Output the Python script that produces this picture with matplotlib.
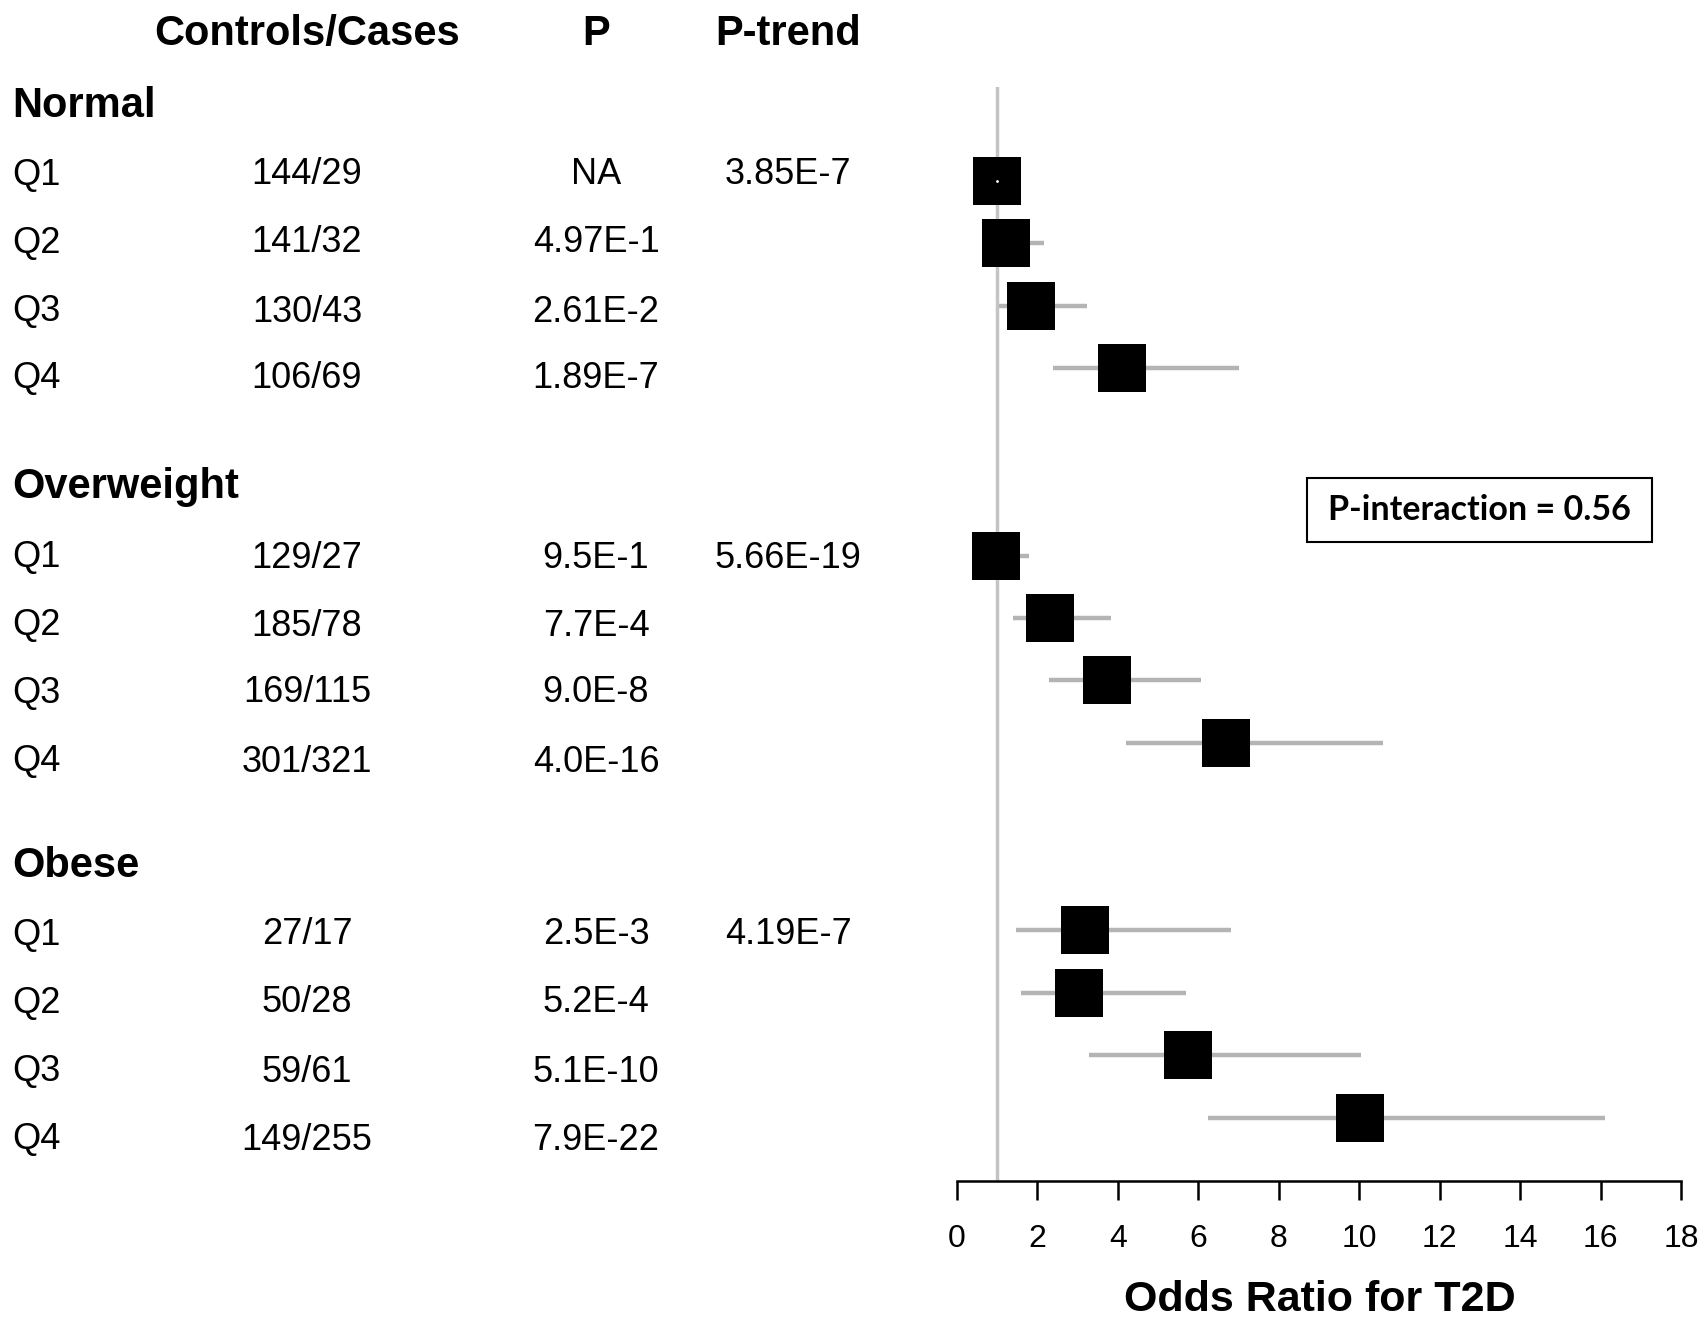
import numpy as np
import matplotlib
matplotlib.use("Agg")
import matplotlib.pyplot as plt
from matplotlib.patches import Rectangle

plt.rcParams['font.family'] = ['Liberation Sans', 'DejaVu Sans']

# table columns
groups = ["Normal", "Overweight", "Obese"]
quartiles = ["Q1", "Q2", "Q3", "Q4"]
counts = [["144/29", "141/32", "130/43", "106/69"],
          ["129/27", "185/78", "169/115", "301/321"],
          ["27/17", "50/28", "59/61", "149/255"]]
pvals = [["NA", "4.97E-1", "2.61E-2", "1.89E-7"],
         ["9.5E-1", "7.7E-4", "9.0E-8", "4.0E-16"],
         ["2.5E-3", "5.2E-4", "5.1E-10", "7.9E-22"]]
ptrend = ["3.85E-7", "5.66E-19", "4.19E-7"]
p_interaction = "0.56"

# odds ratios with 95% CI, same order as the table rows
odds    = [1.00, 1.22, 1.85, 4.10,  0.97, 2.32, 3.72, 6.68,  3.19, 3.03, 5.75, 10.03]
ci_low  = [1.00, 0.68, 1.04, 2.38,  0.52, 1.39, 2.28, 4.21,  1.47, 1.59, 3.28, 6.24]
ci_high = [1.00, 2.17, 3.22, 7.01,  1.79, 3.83, 6.07, 10.59, 6.80, 5.70, 10.04, 16.10]

W, H = 1700, 1324
fig = plt.figure(figsize=(W/100., H/100.), dpi=100)

def ftext(x, y, s, **kw) :
    # place text using pixel coords measured from the top-left
    fig.text(x/float(W), 1-y/float(H), s, **kw)

# header
ftext(307, 34, "Controls/Cases", fontsize=30, fontweight='bold', ha='center', va='center')
ftext(596, 34, "P", fontsize=30, fontweight='bold', ha='center', va='center')
ftext(788, 34, "P-trend", fontsize=30, fontweight='bold', ha='center', va='center')

group_y = [106, 487, 866]
row_y = [[175, 243, 312, 379], [558, 626, 693, 762], [935, 1003, 1072, 1140]]
for g in range(3) :
    ftext(12, group_y[g], groups[g], fontsize=30, fontweight='bold', ha='left', va='center')
    for q in range(4) :
        y = row_y[g][q]
        ftext(12, y, quartiles[q], fontsize=26, ha='left', va='center')
        ftext(307, y, counts[g][q], fontsize=26, ha='center', va='center')
        ftext(596, y, pvals[g][q], fontsize=26, ha='center', va='center')
    ftext(788, row_y[g][0], ptrend[g], fontsize=26, ha='center', va='center')

# forest plot
ax = fig.add_axes([957./W, 0.1083, 724./W, 0.8262])
pos = np.concatenate([np.arange(4), np.arange(6, 10), np.arange(12, 16)])
ax.axvline(1, color='#c4c4c4', lw=2.5, zorder=1)
for i in range(len(odds)) :
    ax.plot([ci_low[i], ci_high[i]], [pos[i], pos[i]], color='#b4b4b4', lw=3.2,
            solid_capstyle='butt', zorder=2)
ax.plot(odds, pos, 's', color='black', ms=35, mew=0, zorder=3)
ax.plot(odds[0], pos[0], 'o', color='white', ms=2, mew=0, zorder=4)

ax.set_xlim(0, 18)
ax.set_ylim(16.01, -1.51)
ax.set_xticks(np.arange(0, 19, 2))
ax.tick_params(axis='x', direction='out', length=14, width=1.8, pad=17, labelsize=23)
ax.set_yticks([])
for s in ['top', 'right', 'left'] :
    ax.spines[s].set_visible(False)
ax.spines['bottom'].set_linewidth(1.8)
ax.spines['bottom'].set_bounds(0, 18)
ax.patch.set_alpha(0)

ftext(1320, 1300, "Odds Ratio for T2D", fontsize=31, fontweight='bold', ha='center', va='center')

# interaction box
fig.add_artist(Rectangle((1307./W, 1-542./H), 345./W, 64./H, transform=fig.transFigure,
                         fill=False, ec='black', lw=1.5))
fig.text(1479.5/W, 1-510./H, "P-interaction = " + p_interaction, fontsize=24.5,
         fontweight='bold', family=['Lato', 'DejaVu Sans'], ha='center', va='center')

fig.savefig("out.png", dpi=100)
